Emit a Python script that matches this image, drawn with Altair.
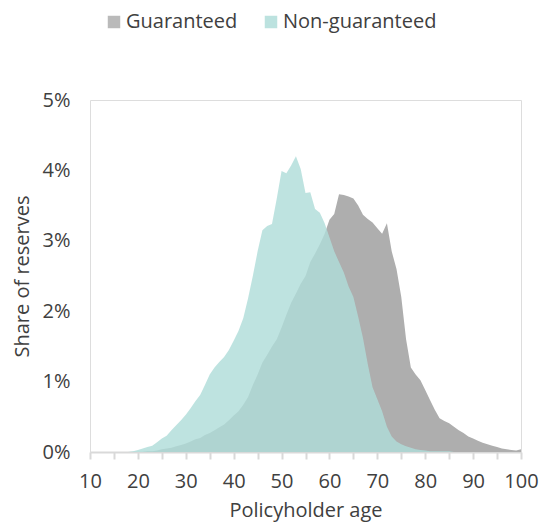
import altair as alt
import pandas as pd

ages = list(range(18, 101))

guaranteed = [
    0.00, 0.00, 0.00, 0.00, 0.01, 0.01, 0.02, 0.04, 0.05, 0.06,   # 18-27
    0.08, 0.10, 0.12, 0.15, 0.18, 0.20, 0.24, 0.27, 0.31, 0.35,   # 28-37
    0.39, 0.45, 0.52, 0.58, 0.67, 0.78, 0.95, 1.10, 1.27, 1.38,   # 38-47
    1.50, 1.60, 1.77, 1.95, 2.12, 2.25, 2.39, 2.50, 2.70, 2.82,   # 48-57
    2.95, 3.10, 3.30, 3.38, 3.66, 3.65, 3.63, 3.60, 3.50, 3.37,   # 58-67
    3.31, 3.26, 3.18, 3.10, 3.25, 2.85, 2.60, 2.20, 1.60, 1.20,   # 68-77
    1.10, 1.02, 0.88, 0.74, 0.60, 0.48, 0.44, 0.41, 0.36, 0.31,   # 78-87
    0.27, 0.22, 0.19, 0.16, 0.13, 0.11, 0.09, 0.07, 0.05, 0.04,   # 88-97
    0.03, 0.02, 0.04,                                             # 98-100
]

non_guaranteed = [
    0.00, 0.01, 0.03, 0.05, 0.07, 0.09, 0.14, 0.19, 0.23, 0.31,   # 18-27
    0.38, 0.45, 0.53, 0.62, 0.72, 0.81, 0.95, 1.10, 1.20, 1.28,   # 28-37
    1.35, 1.45, 1.58, 1.72, 1.90, 2.18, 2.50, 2.85, 3.15, 3.21,   # 38-47
    3.24, 3.60, 3.99, 3.96, 4.07, 4.20, 4.02, 3.68, 3.69, 3.45,   # 48-57
    3.40, 3.25, 3.05, 2.85, 2.70, 2.55, 2.35, 2.20, 1.92, 1.62,   # 58-67
    1.25, 0.92, 0.75, 0.58, 0.36, 0.22, 0.15, 0.11, 0.08, 0.06,   # 68-77
    0.04, 0.03, 0.02, 0.01, 0.01, 0.01, 0.01, 0.01, 0.00, 0.00,   # 78-87
    0.00, 0.00, 0.00, 0.00, 0.00, 0.00, 0.00, 0.00, 0.00, 0.00,   # 88-97
    0.00, 0.00, 0.00,                                             # 98-100
]

series_names = ["Guaranteed", "Non-guaranteed"]
series_colors = ["#AEAEAE", "#B0DDD9"]
x_ticks = list(range(10, 101, 5))
y_ticks = [0, 0.01, 0.02, 0.03, 0.04, 0.05]

df_g = pd.DataFrame({"age": ages, "share": [v / 100 for v in guaranteed], "series": series_names[0]})
df_n = pd.DataFrame({"age": ages, "share": [v / 100 for v in non_guaranteed], "series": series_names[1]})

FONT = "Open Sans"
TXT = "#404040"
FS = 20

color = alt.Color(
    "series:N",
    scale=alt.Scale(domain=series_names, range=series_colors),
    legend=alt.Legend(
        title=None,
        orient="none",
        legendX=14,
        legendY=-88,
        direction="horizontal",
        symbolType="square",
        symbolSize=155,
        symbolStrokeWidth=0,
        symbolOpacity=0.85,
        labelFontSize=FS,
        labelFont=FONT,
        labelColor=TXT,
        labelOffset=2,
        columnPadding=23,
        padding=0,
    ),
)

x = alt.X(
    "age:Q",
    scale=alt.Scale(domain=[10, 100], nice=False),
    axis=alt.Axis(
        title="Policyholder age",
        values=x_ticks,
        labelExpr="datum.value % 10 == 0 ? datum.label : ''",
        grid=False,
        domainColor="#D9D9D9",
        domainWidth=2,
        tickColor="#D9D9D9",
        tickWidth=2,
        tickSize=7,
        labelFontSize=FS,
        labelFont=FONT,
        labelColor=TXT,
        labelPadding=12,
        titleFontSize=FS,
        titleFont=FONT,
        titleColor=TXT,
        titleFontWeight="normal",
        titlePadding=9,
        labelFlush=False,
    ),
)

y = alt.Y(
    "share:Q",
    scale=alt.Scale(domain=[0, 0.05], nice=False),
    axis=alt.Axis(
        title="Share of reserves",
        values=y_ticks,
        format=".0%",
        grid=False,
        domain=False,
        ticks=False,
        labelFontSize=FS,
        labelFont=FONT,
        labelColor=TXT,
        labelPadding=20,
        titleFontSize=FS,
        titleFont=FONT,
        titleColor=TXT,
        titleFontWeight="normal",
        titlePadding=10,
    ),
)

g = alt.Chart(df_g).mark_area(opacity=1, interpolate="linear").encode(x=x, y=y, color=color)
n = alt.Chart(df_n).mark_area(opacity=0.82, interpolate="linear").encode(x=x, y=y, color=color)

chart = (
    alt.layer(g, n)
    .properties(
        width=431,
        height=352,
        autosize=alt.AutoSizeParams(type="none"),
        padding={"left": 82, "top": 92, "right": 18, "bottom": 70},
    )
    .configure_view(strokeWidth=0)
    .configure(font=FONT)
)

chart.save("out.html", embed_options={"renderer": "svg", "actions": False})
